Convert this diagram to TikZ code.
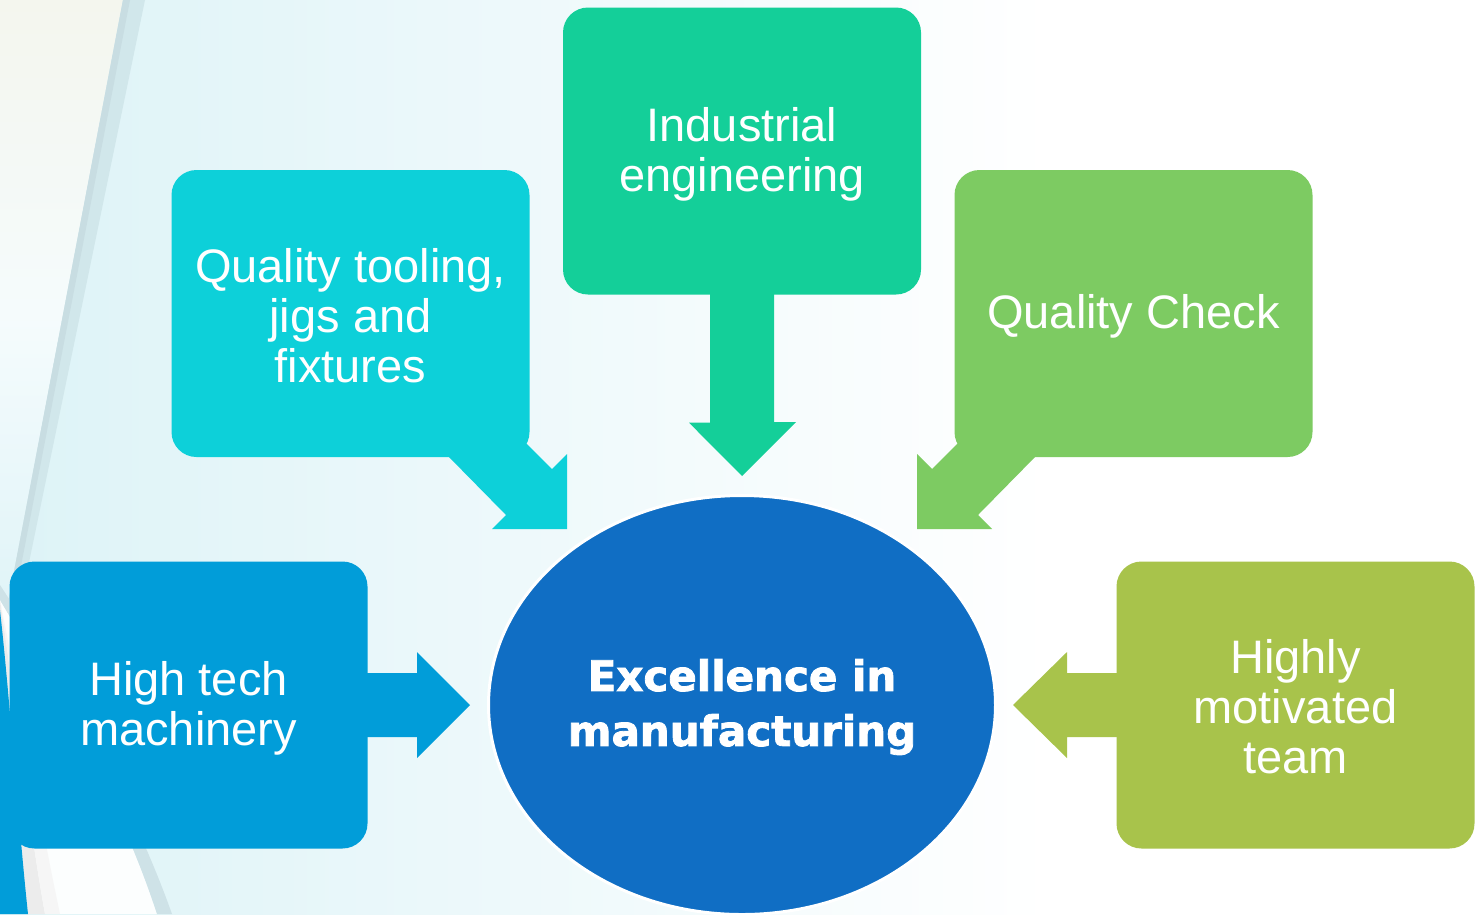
\documentclass[tikz,border=0pt]{standalone}
\usepackage{fontspec}
\setmainfont{Liberation Sans}
\newfontfamily\blackfont[FakeBold=2]{DejaVu Sans Bold}
\usetikzlibrary{shapes.geometric}
\definecolor{ieC}{HTML}{14CF99}
\definecolor{qtC}{HTML}{0DD0D9}
\definecolor{qcC}{HTML}{7DCB62}
\definecolor{htC}{HTML}{019DD9}
\definecolor{hmC}{HTML}{A8C34B}
\definecolor{exC}{HTML}{106EC4}
\definecolor{bgC}{HTML}{DDF3F7}
\definecolor{edgeC}{HTML}{C3D7DD}
\definecolor{cornerC}{HTML}{F4F6EE}
\begin{document}
\begin{tikzpicture}[x=1pt,y=-1pt,
  box/.style={rectangle, rounded corners=25pt, minimum width=358pt, minimum height=287pt,
    inner sep=0pt},
  boxtext/.style={align=center, text=white, inner sep=0pt, font=\fontsize{47}{50}\selectfont}]
\useasboundingbox (0,0) rectangle (1480,914);
% background
\fill[white] (0,0) rectangle (1480,914);
\shade[left color=bgC, right color=white] (0,0) rectangle (1050,914);
% left decoration
\shade[top color=cornerC, bottom color=bgC, middle color=white!70!bgC] (0,0) -- (123,0) -- (0,645) -- cycle;
\fill[edgeC!45!bgC] (123,0) -- (145,0) -- (12,645) -- (0,700) -- (0,645) -- cycle;
\fill[edgeC!80!bgC] (123,0) -- (130,0) -- (0,675) -- (0,645) -- cycle;
\fill[white!92!bgC] (0,600) .. controls (60,700) and (120,800) .. (157,914) -- (0,914) -- cycle;
\fill[edgeC!60!bgC] (157,914) .. controls (120,800) and (60,700) .. (0,600) -- (0,585) .. controls (75,700) and (135,810) .. (172,914) -- cycle;
\fill[white!85!gray] (0,600) .. controls (15,700) and (28,820) .. (45,914) -- (0,914) -- cycle;
\fill[white!93!gray] (0,600) .. controls (20,700) and (40,820) .. (60,914) -- (45,914) .. controls (28,820) and (15,700) .. (0,600) -- cycle;
\fill[htC] (0,610) .. controls (10,700) and (18,820) .. (28,914) -- (0,914) -- cycle;
% boxes
\node[box, fill=ieC] (ie) at (742,151) {};
\node[box, fill=qtC] (qt) at (350.5,313.5) {};
\node[box, fill=qcC] (qc) at (1133.5,313.5) {};
\node[box, fill=htC] (ht) at (188.5,705) {};
\node[box, fill=hmC] (hm) at (1295.5,705) {};
% block arrows
\fill[ieC] (ie.south) ++(-32,-10) -- ++(0,138) -- ++(-21,0) -- (742,476) -- (796,422) -- (774,422) -- (774,284) -- cycle;
\fill[qtC] (448,456) -- (506,515) -- (492,529) -- (567,529) -- (567,454) -- (552,469) -- (526,443) -- (510,427) -- (440,440) -- cycle;
\fill[qcC] (1036,456) -- (978,515) -- (992,529) -- (917,529) -- (917,454) -- (932,469) -- (958,443) -- (974,427) -- (1044,440) -- cycle;
\fill[htC] (ht.east) ++(-10,-32) -- (417,673) -- (417,652) -- (470,705) -- (417,758) -- (417,737) -- (357,737) -- cycle;
\fill[hmC] (hm.west) ++(10,-32) -- (1067,673) -- (1067,652) -- (1013,705) -- (1067,758) -- (1067,737) -- (1127,737) -- cycle;
% box texts
\node[boxtext] (ie-t) at ([yshift=-3pt]ie.center) {Industrial\\engineering};
\node[boxtext] (qt-t) at ([yshift=-2pt]qt.center) {Quality tooling,\\jigs and\\fixtures};
\node[boxtext] (qc-t) at ([yshift=-3pt]qc.center) {Quality Check};
\node[boxtext] (ht-t) at ([yshift=-3pt]ht.center) {High tech\\machinery};
\node[boxtext] (hm-t) at ([yshift=-2pt]hm.center) {Highly\\motivated\\team};
% centre
\node[ellipse, fill=exC, draw=white, line width=3pt, minimum width=507pt, minimum height=419pt,
  inner sep=0pt] (ex) at (742,705) {};
\node[align=center, text=white, inner sep=0pt, font=\blackfont\fontsize{42}{55}\selectfont] (ex-t)
  at ([yshift=-2pt]ex.center) {Excellence in\\manufacturing};
\end{tikzpicture}
\end{document}
